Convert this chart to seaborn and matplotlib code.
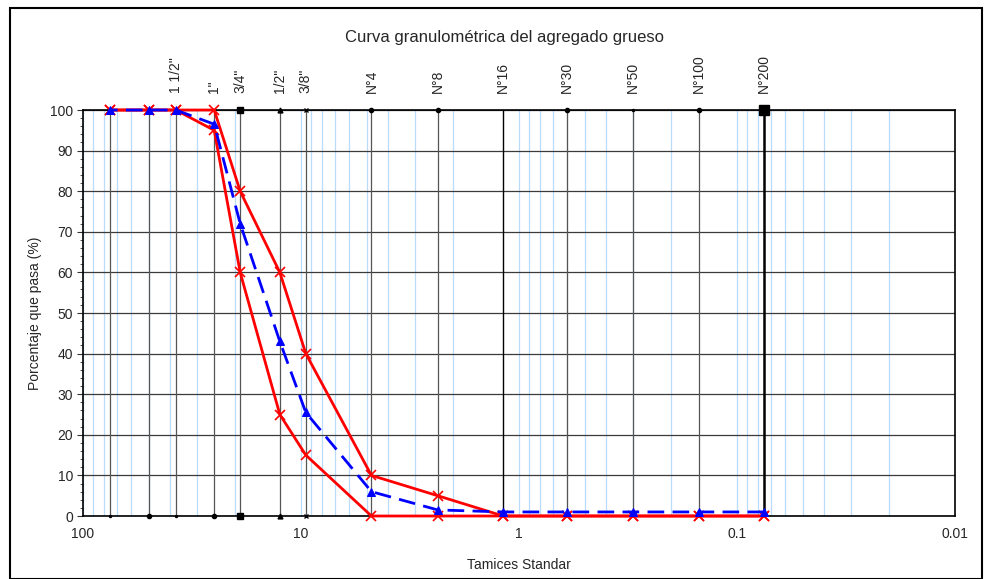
import numpy as np
import pandas as pd
import seaborn as sns
import matplotlib.pyplot as plt
from matplotlib.ticker import FixedLocator, LogLocator, NullFormatter, MultipleLocator
from matplotlib.patches import Rectangle

# Sieve openings (mm) and their names
sieve_mm = [75, 50, 37.5, 25, 19, 12.5, 9.5, 4.75, 2.36, 1.18, 0.6, 0.3, 0.15, 0.075]
sieve_names = ['3"', '2"', '1 1/2"', '1"', '3/4"', '1/2"', '3/8"',
               'N°4', 'N°8', 'N°16', 'N°30', 'N°50', 'N°100', 'N°200']
labelled = ['1 1/2"', '1"', '3/4"', '1/2"', '3/8"', 'N°4', 'N°8',
            'N°16', 'N°30', 'N°50', 'N°100', 'N°200']

# Percent passing
muestra = [100, 100, 100, 96.5, 72, 43, 25.5, 6, 1.5, 1, 1, 1, 1, 1]
lim_sup = [100, 100, 100, 100, 80, 60, 40, 10, 5, 0, 0, 0, 0, 0]
lim_inf = [100, 100, 100, 95, 60, 25, 15, 0, 0, 0, 0, 0, 0, 0]

x_ticks = [100, 10, 1, 0.1, 0.01]
x_ticklabels = ['100', '10', '1', '0.1', '0.01']

sns.set_style("white")
plt.rcParams['font.family'] = ['Liberation Sans', 'DejaVu Sans']

fig = plt.figure(figsize=(9.84, 5.79), dpi=100)
ax = fig.add_axes([0.0843, 0.1088, 0.8862, 0.7012])

df = pd.DataFrame({'abertura': sieve_mm, 'muestra': muestra,
                   'sup': lim_sup, 'inf': lim_inf})

# Grid: light blue logarithmic verticals, dark horizontals
ax.set_xscale('log')
ax.set_xlim(100, 0.01)
ax.set_ylim(0, 100)
ax.xaxis.set_major_locator(FixedLocator(x_ticks))
ax.set_xticklabels(x_ticklabels)
ax.xaxis.set_minor_locator(LogLocator(base=10, subs=np.arange(2, 10)))
ax.xaxis.set_minor_formatter(NullFormatter())
ax.yaxis.set_major_locator(MultipleLocator(10))
ax.yaxis.set_minor_locator(MultipleLocator(2))
ax.grid(which='both', axis='x', color='#b9dcfb', lw=0.9)
ax.grid(which='major', axis='y', color='#3a3a3a', lw=0.9)
ax.set_axisbelow(True)

# Sieve reference lines
for mm, name in zip(sieve_mm, sieve_names):
    if name == 'N°200':
        ax.axvline(mm, color='black', lw=1.8, zorder=1.5)
    elif name == 'N°16':
        ax.axvline(mm, color='black', lw=1.0, zorder=1.5)
    else:
        ax.axvline(mm, color='#555555', lw=0.9, zorder=1.5)

top_marks = [(19, 's', 4), (12.5, '^', 3.5), (9.5, 'x', 3.5), (4.75, 'o', 3),
             (2.36, 'o', 3), (0.6, 'o', 3), (0.3, 'o', 1.5), (0.15, 'o', 3),
             (0.075, 's', 7)]
bottom_marks = [(75, 'o', 1.5), (50, 'o', 3), (37.5, 'o', 1.5), (25, 'o', 3),
                (19, 's', 4), (12.5, '^', 3.5), (9.5, 'x', 3.5)]
for mm, m, s in top_marks:
    ax.plot([mm], [100], marker=m, ms=s, color='black', clip_on=False, zorder=4)
for mm, m, s in bottom_marks:
    ax.plot([mm], [0], marker=m, ms=s, color='black', clip_on=False, zorder=4)

# Gradation curves
sns.lineplot(data=df, x='abertura', y='sup', ax=ax, color='red', lw=2,
             marker='x', ms=7, mec='red', mew=1.2, zorder=5, clip_on=False)
sns.lineplot(data=df, x='abertura', y='inf', ax=ax, color='red', lw=2,
             marker='x', ms=7, mec='red', mew=1.2, zorder=5, clip_on=False)
sns.lineplot(data=df, x='abertura', y='muestra', ax=ax, color='blue', lw=2,
             linestyle=(0, (6, 3)), marker='^', ms=6, mec='blue', zorder=6,
             clip_on=False)

ax.set_xlim(100, 0.01)
ax.set_ylim(0, 100)

for s in ax.spines.values():
    s.set_color('black')
    s.set_linewidth(1.2)

ax.tick_params(axis='x', which='both', length=0, labelsize=10, pad=8)
ax.tick_params(axis='y', which='major', left=True, length=4, width=0.8,
               labelsize=10, pad=3, direction='out', color='#333333')
ax.tick_params(axis='y', which='minor', left=True, length=2, width=0.6,
               direction='out', color='#333333')

ax.set_xlabel('Tamices Standar', fontsize=10, labelpad=12)
ax.set_ylabel('Porcentaje que pasa (%)', fontsize=10, labelpad=6)

# Sieve names on top
top = ax.secondary_xaxis('top')
top.set_xticks([mm for mm, n in zip(sieve_mm, sieve_names) if n in labelled])
top.set_xticklabels(labelled, rotation=90, fontsize=10)
top.xaxis.set_minor_locator(FixedLocator([]))
top.tick_params(axis='x', which='both', length=0, pad=12)
top.spines['top'].set_visible(False)

fig.text(0.513, 0.935, 'Curva granulométrica del agregado grueso',
         ha='center', va='center', fontsize=12)

fig.patches.append(Rectangle((0.0105, 0.0), 0.987, 0.986, transform=fig.transFigure,
                             fill=False, edgecolor='black', lw=1.5))

fig.savefig('out.png', dpi=100)
